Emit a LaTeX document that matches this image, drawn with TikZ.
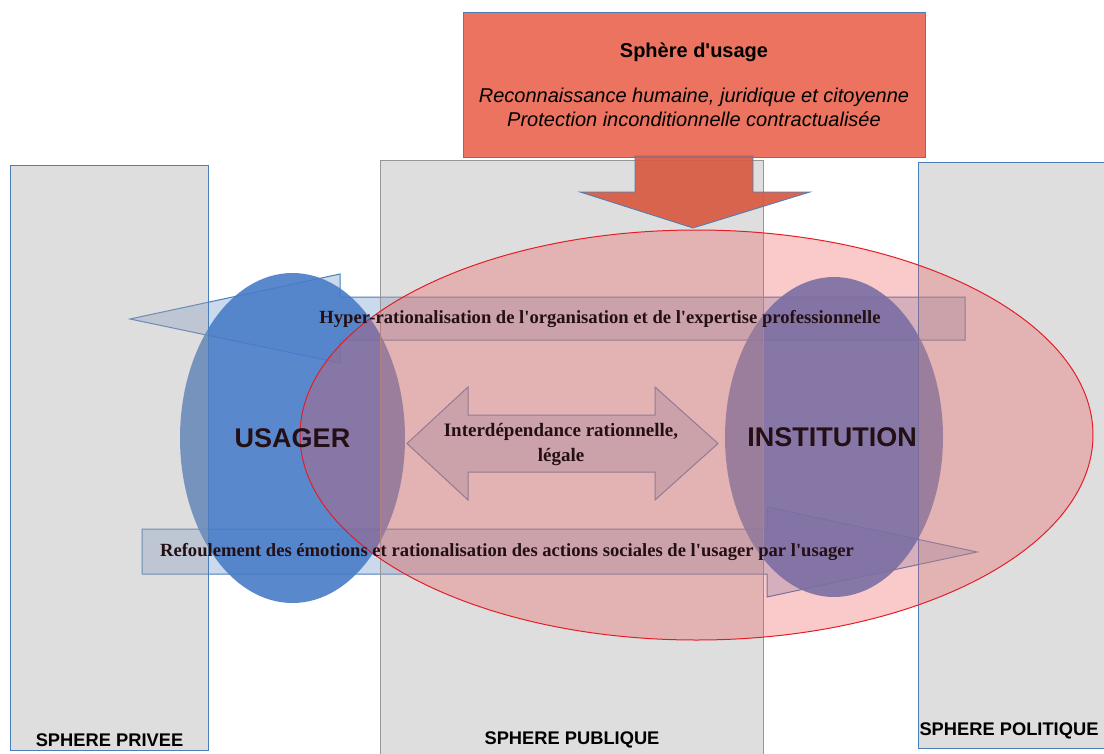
\documentclass[tikz,border=0pt]{standalone}
\usepackage{fontspec}
\setmainfont{Liberation Serif}[Ligatures=TeXOff]
\setsansfont{Liberation Sans}[Ligatures=TeXOff]
\usepackage{tikz}
\usetikzlibrary{positioning,shapes.geometric}

\definecolor{bordbleu}{RGB}{74,126,187}
\definecolor{bordgris}{RGB}{150,150,150}
\definecolor{grisfond}{RGB}{166,166,166}
\definecolor{bleubulle}{RGB}{73,124,200}
\definecolor{rosezone}{RGB}{240,80,80}
\definecolor{rougebord}{RGB}{228,30,40}
\definecolor{bleufleche}{RGB}{190,208,232}
\definecolor{rougeusage}{RGB}{235,115,95}
\definecolor{rougefleche}{RGB}{216,90,66}
\definecolor{encre}{RGB}{35,15,20}

\begin{document}
\begin{tikzpicture}[x=1pt,y=-1pt,
    sphere/.style={draw=bordbleu,line width=1pt,fill=grisfond,fill opacity=.37,anchor=north west,inner sep=0pt},
    etiquette/.style={font=\sffamily\bfseries\fontsize{18.3}{22}\selectfont,inner sep=0pt},
    bulle/.style={ellipse,fill=bleubulle,fill opacity=.9,inner sep=0pt},
    acteur/.style={text=encre,font=\sffamily\bfseries\fontsize{27}{30}\selectfont,inner sep=0pt},
    fleche/.style={fill=bleufleche,fill opacity=.8,draw=bordbleu,line width=1pt},
    legende/.style={text=encre,font=\bfseries\fontsize{18.6}{25}\selectfont,inner sep=0pt,align=center}]
    \fill[white] (0,0) rectangle (1104,753);
    \useasboundingbox (0,0) rectangle (1104,753);

    % fleches de rationalisation
    \path[fleche] (130,319) -- (340,274) -- (340,297) -- (965,297) -- (965,340) -- (340,340) -- (340,363) -- cycle;
    \path[fleche] (142,529) -- (767,529) -- (767,507) -- (977,552) -- (767,597) -- (767,574) -- (142,574) -- cycle;
    \path[fleche] (407,443.5) -- (468,387) -- (468,415) -- (655,415) -- (655,387) -- (718,443.5)
        -- (655,500) -- (655,472) -- (468,472) -- (468,500) -- cycle;

    \node[bulle,minimum width=225pt,minimum height=330pt] (usager) at (292.5,438) {};
    \node[bulle,minimum width=218pt,minimum height=320pt] (institution) at (834,437) {};

    % les trois spheres
    \node[sphere,minimum width=198pt,minimum height=585pt] (privee) at (10,165) {};
    \node[sphere,draw=bordgris,minimum width=383pt,minimum height=600pt] (publique) at (380,160) {};
    \node[sphere,minimum width=195pt,minimum height=586pt] (politique) at (918,162) {};
    \node[etiquette,above=4pt of privee.south] (lbprivee) {SPHERE PRIVEE};
    \node[etiquette,above=13pt of publique.south] (lbpublique) {SPHERE PUBLIQUE};
    \node[etiquette,above=10pt of politique.south,xshift=-7pt] (lbpolitique) {SPHERE POLITIQUE};

    \node[ellipse,minimum width=793pt,minimum height=410pt,fill=rosezone,fill opacity=.3,
        draw=rougebord,line width=1pt] (zone) at (696.5,435) {};

    \node[acteur] (lbusager) at (usager) {USAGER};
    \node[acteur] (lbinstitution) at ([xshift=-2pt]institution.center) {INSTITUTION};
    \node[legende] (hyper) at (600,319) {Hyper-rationalisation de l'organisation et de l'expertise professionnelle};
    \node[legende] (refoul) at (507,552) {Refoulement des émotions et rationalisation des actions sociales de l'usager par l'usager};
    \node[legende,font=\bfseries\fontsize{19}{25}\selectfont] (interdep) at (561,444) {Interdépendance rationnelle,\\légale};

    % sphere d'usage
    \node[draw=bordbleu,line width=.8pt,fill=rougeusage,minimum width=462pt,minimum height=145pt,
        align=center,font=\sffamily\fontsize{20}{24}\selectfont] (usage) at (694,84.5)
        {{\bfseries Sphère d'usage}\\[21pt]{\itshape Reconnaissance humaine, juridique et citoyenne}\\
         {\itshape Protection inconditionnelle contractualisée}};
    \filldraw[fill=rougefleche,fill opacity=.92,draw=bordbleu,line width=.8pt]
        (635,156) -- (635,192) -- (580,192) -- (693,228) -- (810,192) -- (753,192) -- (753,156) -- cycle;
\end{tikzpicture}
\end{document}
